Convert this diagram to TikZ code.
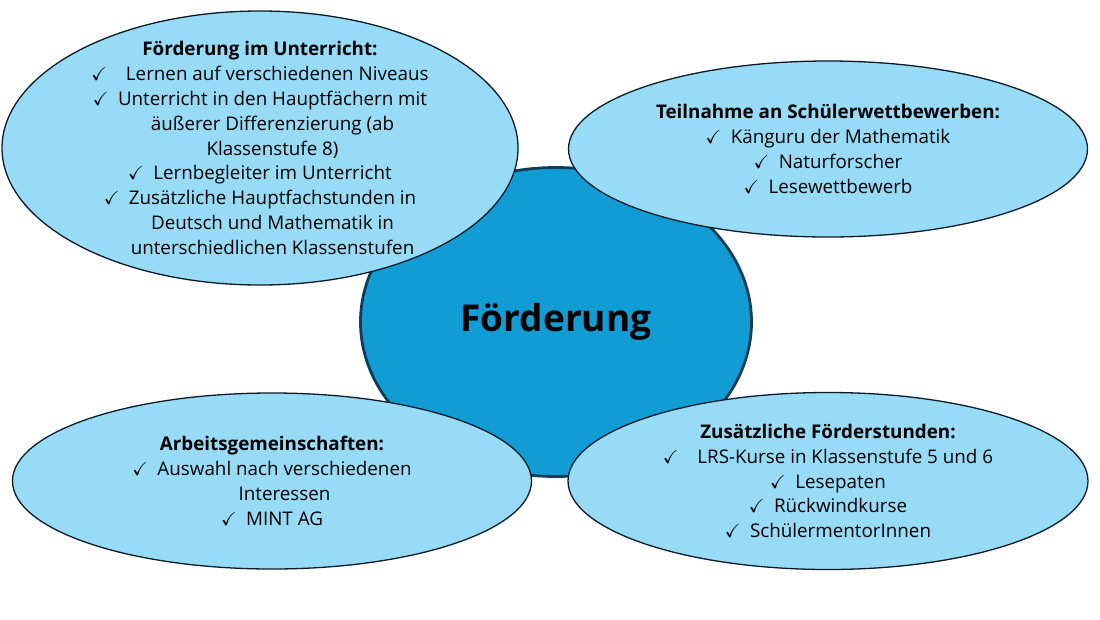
\documentclass[tikz,border=0pt]{standalone}
\usepackage{amssymb}
\usepackage{fontspec}
\setmainfont{Open Sans}
\usetikzlibrary{shapes.geometric}

\definecolor{bubblefill}{HTML}{97DBF6}
\definecolor{hubfill}{HTML}{119CD4}
\definecolor{hubline}{HTML}{103C5A}
\definecolor{bubbleline}{HTML}{0B1C28}

\newcommand{\ok}{$\checkmark$\enspace}
\newcommand{\cont}{\hphantom{$\checkmark$\enspace}}

\begin{document}
\begin{tikzpicture}[x=1pt,y=-1pt,
  bubble/.style={ellipse, draw=bubbleline, line width=1.3pt, fill=bubblefill, inner sep=0pt},
  hub/.style={ellipse, draw=hubline, line width=2.8pt, fill=hubfill, inner sep=0pt},
  txt/.style={align=center, inner sep=0pt, font=\fontsize{18.8}{24.8}\selectfont}]

\useasboundingbox (0,0) rectangle (1100,619);

% centre
\node[hub, minimum width=391pt, minimum height=309pt] (foe) at (556,322) {};
\node[font=\fontsize{37}{40}\selectfont\bfseries] (foetxt) at (foe.center) {Förderung};

% the four topics
\node[bubble, minimum width=516pt, minimum height=274pt] (unt) at (260,148) {};
\node[bubble, minimum width=519pt, minimum height=176pt] (wett) at (828,149) {};
\node[bubble, minimum width=519pt, minimum height=176pt] (ag) at (272,481) {};
\node[bubble, minimum width=520pt, minimum height=177pt] (zus) at (828,481) {};

\node[txt] (unttxt) at (unt.center) {\textbf{Förderung im Unterricht:}\\
  \ok\enspace Lernen auf verschiedenen Niveaus\\
  \ok Unterricht in den Hauptfächern mit\\
  \cont äußerer Differenzierung (ab\\
  \cont Klassenstufe 8)\\
  \ok Lernbegleiter im Unterricht\\
  \ok Zusätzliche Hauptfachstunden in\\
  \cont Deutsch und Mathematik in\\
  \cont unterschiedlichen Klassenstufen};

\node[txt] (wetttxt) at (wett.center) {\textbf{Teilnahme an Schülerwettbewerben:}\\
  \ok Känguru der Mathematik\\
  \ok Naturforscher\\
  \ok Lesewettbewerb};

\node[txt] (agtxt) at (ag.center) {\textbf{Arbeitsgemeinschaften:}\\
  \ok Auswahl nach verschiedenen\\
  \cont Interessen\\
  \ok MINT AG};

\node[txt] (zustxt) at (zus.center) {\textbf{Zusätzliche Förderstunden:}\\
  \ok\enspace LRS-Kurse in Klassenstufe 5 und 6\\
  \ok Lesepaten\\
  \ok Rückwindkurse\\
  \ok SchülermentorInnen};

\end{tikzpicture}
\end{document}
